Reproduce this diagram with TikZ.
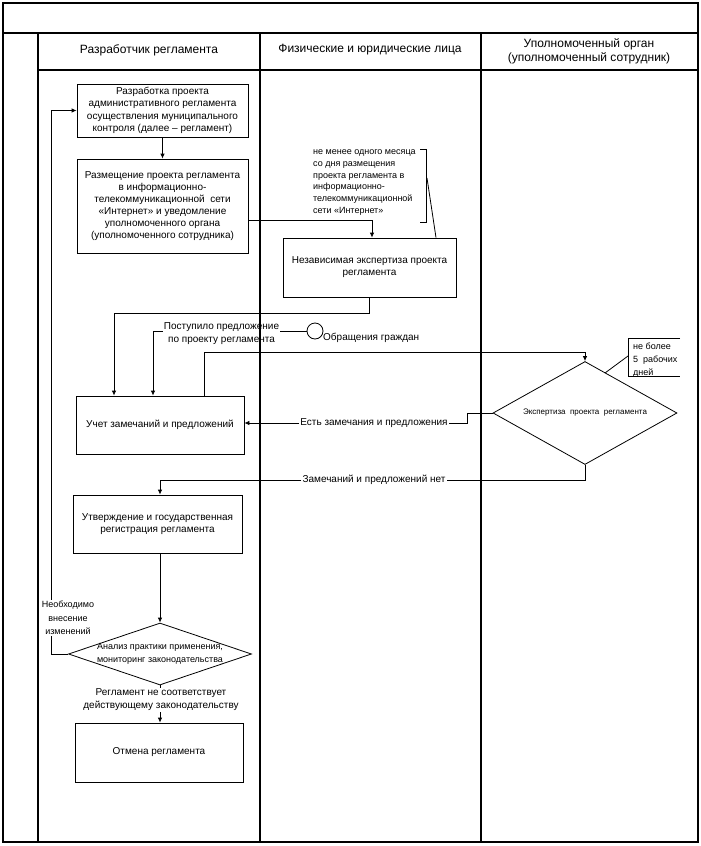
\documentclass[tikz,border=0pt]{standalone}
\usepackage{fontspec}
\setmainfont{Liberation Sans}
\usetikzlibrary{arrows.meta,shapes.geometric}
\begin{document}
\begin{tikzpicture}[x=1pt,y=-1pt,
  frame/.style={line width=1.1pt},
  conn/.style={line width=0.8pt},
  arr/.style={conn,-{Latex[length=5pt,width=4.5pt]}},
  box/.style={draw,line width=0.8pt,align=center,inner sep=2pt,font=\fontsize{10}{12}\selectfont},
  dia/.style={draw,line width=0.8pt,diamond,inner sep=0pt},
  lbl/.style={align=center,inner sep=1pt,font=\fontsize{10}{13}\selectfont},
  smalllbl/.style={align=center,inner sep=1pt,font=\fontsize{9}{13.5}\selectfont},
  note/.style={align=left,inner sep=0pt,font=\fontsize{9}{11.8}\selectfont},
  head/.style={align=center,font=\fontsize{12}{14}\selectfont}]
\useasboundingbox (0,0) rectangle (701,846);
% frame
\draw[frame] (3,3) rectangle (698,842);
\draw[frame] (3,33) -- (698,33);
\draw[frame] (38,70) -- (698,70);
\draw[frame] (38,33) -- (38,842);
\draw[frame] (260,33) -- (260,842);
\draw[frame] (481,33) -- (481,842);
% headers
\node[head] (h1) at (149,50) {Разработчик регламента};
\node[head] (h2) at (370,50) {Физические и юридические лица};
\node[head] (h3) at (589,51) {Уполномоченный орган\\(уполномоченный сотрудник)};
% boxes
\node[box,minimum width=171pt,minimum height=53pt,font=\fontsize{10}{12.5}\selectfont] (b1) at (162.5,110.5) {Разработка проекта\\административного регламента\\осуществления муниципального\\контроля (далее – регламент)};
\node[box,minimum width=171pt,minimum height=94pt] (b2) at (162.5,206) {Размещение проекта регламента\\в информационно-\\телекоммуникационной\ \ сети\\«Интернет» и уведомление\\уполномоченного органа\\(уполномоченного сотрудника)};
\node[box,minimum width=173pt,minimum height=59pt] (b3) at (369.5,267.5) {Независимая экспертиза проекта\\регламента};
\node[box,minimum width=168pt,minimum height=58pt] (b4) at (160,425) {Учет замечаний и предложений};
\node[box,minimum width=169pt,minimum height=58pt] (b5) at (157.5,524) {Утверждение и государственная\\регистрация регламента};
\node[box,minimum width=168pt,minimum height=59pt] (b6) at (159,752.5) {Отмена регламента};
% diamonds
\node[dia,minimum width=184pt,minimum height=103pt] (d1) at (585,413) {};
\node[font=\fontsize{8}{10}\selectfont] (d1t) at (d1) {Экспертиза\ \ проекта\ \ регламента};
\node[dia,minimum width=183pt,minimum height=62pt] (d2) at (160,654) {};
\node[smalllbl] (d2t) at (160,654) {Анализ практики применения,\\мониторинг законодательства};
% circle
\node[draw,circle,line width=0.8pt,minimum size=16pt,inner sep=0pt] (cit) at (315,331) {};
\node[lbl,anchor=west] (citt) at (322,338) {Обращения граждан};
% notes
\node[note,anchor=north west] (an1) at (313,149.5) {не менее одного месяца\\со дня размещения\\проекта регламента в\\информационно-\\телекоммуникационной\\сети «Интернет»};
\node[note,anchor=north west,font=\fontsize{9}{13}\selectfont] (an2) at (633,343) {не более\\5\ \ рабочих\\дней};
% labels
\node[lbl] (lp) at (221.5,334) {Поступило предложение\\по проекту регламента};
\node[lbl] (ly) at (374,423) {Есть замечания и предложения};
\node[lbl] (ln) at (374,480) {Замечаний и предложений нет};
\node[smalllbl] (lnc) at (68,618) {Необходимо\\внесение\\изменений};
\node[lbl] (lr) at (161,700) {Регламент не соответствует\\действующему законодательству};
% coordinates
\coordinate (c1) at (372,220);
\coordinate (c2) at (114,313);
\coordinate (c3) at (153,0);
\coordinate (c4) at (204,352);
\coordinate (s1) at (467,413);
\coordinate (s2) at (467,423);
\coordinate (lx) at (51,0);
\coordinate (n1a) at (420,149);
\coordinate (n1b) at (426,149);
\coordinate (n1c) at (426,222);
\coordinate (n1d) at (420,222);
\coordinate (n1e) at (427,178);
\coordinate (n1f) at (436,0);
\coordinate (n2a) at (680,338);
\coordinate (n2b) at (628,338);
\coordinate (n2c) at (628,376);
\coordinate (n2d) at (680,376);
\coordinate (n2e) at (628,356);
\coordinate (n2f) at (605,373);
% connectors
\draw[arr] (b1.south) -- (b2.north);
\draw[arr] (b2.east |- c1) -- (c1) -- (b3.north -| c1);
\draw[arr] (b3.south) |- (c2) -- (b4.north -| c2);
\draw[conn] (cit.west) -- (cit.west -| lp.east);
\draw[arr] (cit.west -| lp.west) -| (b4.north -| c3);
\draw[arr] (b4.north -| c4) -- (c4) -| (d1.north);
\draw[conn] (d1.west) -- (s1) -- (s2) -- (s2 -| ly.east);
\draw[arr] (ly.west) -- (b4.east |- ly.west);
\draw[conn] (d1.south) |- (ln.east);
\draw[arr] (ln.west) -| (b5.north -| d2.north);
\draw[arr] (b5.south -| d2.north) -- (d2.north);
\draw[conn] (d2.west) -| (lnc.south -| lx);
\draw[arr] (lnc.north -| lx) |- (b1.west);
\draw[conn] (d2.south) -- (lr.north -| d2.south);
\draw[arr] (lr.south -| d2.south) -- (b6.north -| d2.south);
% note brackets
\draw[conn] (n1a) -- (n1b) -- (n1c) -- (n1d);
\draw[conn] (n1e) -- (b3.north -| n1f);
\draw[conn] (n2a) -- (n2b) -- (n2c) -- (n2d);
\draw[conn] (n2e) -- (n2f);
\end{tikzpicture}
\end{document}
